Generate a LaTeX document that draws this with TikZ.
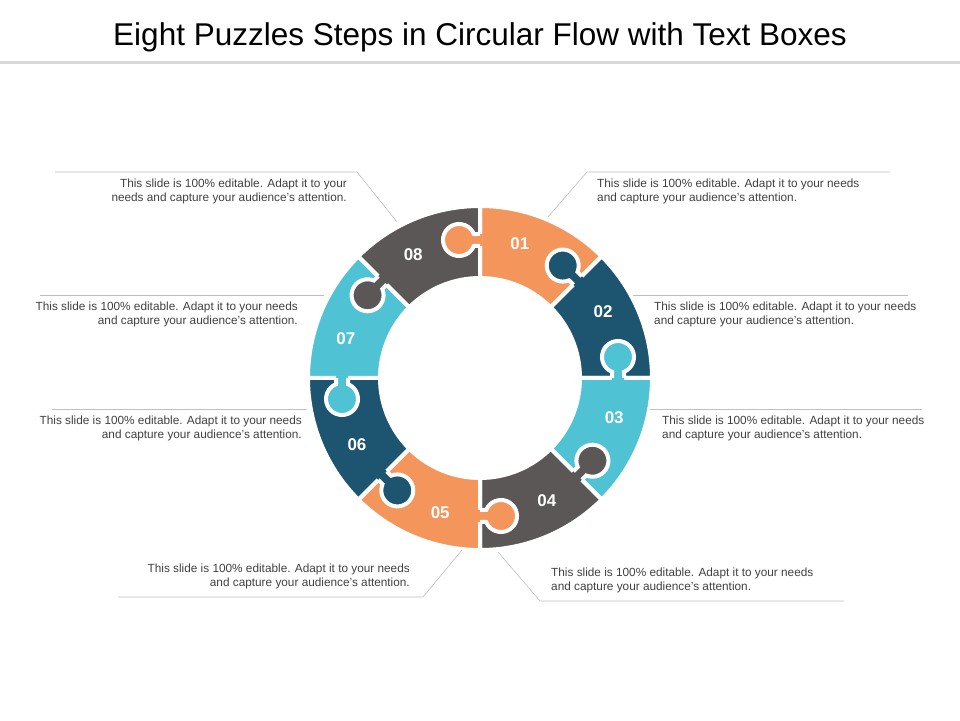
\documentclass[tikz,border=0pt]{standalone}
\usepackage{fontspec}
\setmainfont{Liberation Sans}
\usetikzlibrary{positioning}
\definecolor{puzorange}{HTML}{F4955C}
\definecolor{puzblue}{HTML}{1D5470}
\definecolor{puzcyan}{HTML}{4FC3D4}
\definecolor{puzgray}{HTML}{5B5757}
\definecolor{txtgray}{HTML}{404040}
\definecolor{rulegray}{HTML}{BFBFBF}
\begin{document}
\begin{tikzpicture}[x=1pt,y=1pt,
	  num/.style={text=white,font=\fontsize{17}{17}\selectfont\bfseries},
	  desc/.style={text=txtgray,font=\fontsize{11.8}{14}\selectfont,inner sep=0pt},
	  lead/.style={draw=rulegray,line width=0.6pt}]
	  \useasboundingbox (0,0) rectangle (960,720);
	  \node (title) at (480,683) {\fontsize{31.5}{32}\selectfont Eight Puzzles Steps in Circular Flow with Text Boxes};
	  \draw[draw=black!15,line width=3] (0,657) -- (960,657);
%
	  \begin{scope}[shift={(480,342)}]
	    \foreach \a/\c in {90/puzorange,45/puzblue,0/puzcyan,-45/puzgray,-90/puzorange,-135/puzblue,180/puzcyan,135/puzgray}
	      \filldraw[fill=\c,draw=white,line width=4] (\a:172) arc[start angle=\a,end angle=\a-45,radius=172]
	        -- (\a-45:100) arc[start angle=\a-45,end angle=\a,radius=100] -- cycle;
	    \foreach \a/\c in {90/puzorange,45/puzblue,0/puzcyan,-45/puzgray,-90/puzorange,-135/puzblue,180/puzcyan,135/puzgray}{
	      \fill[\c,rotate=\a] (132,-2.5) -- (132,6.17) arc[start angle=248,end angle=-68,radius=16] -- (144,-2.5) -- cycle;
	      \draw[white,line width=4,rotate=\a] (132,0) -- (132,6.17) arc[start angle=248,end angle=-68,radius=16] -- (144,0);
	    }
	    \foreach \a/\n in {90/01,45/02,0/03,-45/04,-90/05,-135/06,180/07,135/08}
	      \node[num] (n\n) at (\a-16.5:140) {\n};
	  \end{scope}
%
	  \coordinate (p1) at (548,503); \coordinate (q1) at (587,548);
	  \draw[lead] (p1) -- (q1) -- (890,548);
	  \node[desc,anchor=north west,align=left] (t1) at (597,541) {This slide is 100\% editable. Adapt it to your needs\\and capture your audience's attention.};
	  \draw[lead] (633,425) -- (908,425);
	  \node[desc,anchor=north west,align=left] (t2) at (654,418) {This slide is 100\% editable. Adapt it to your needs\\and capture your audience's attention.};
	  \draw[lead] (650,311) -- (922,311);
	  \node[desc,anchor=north west,align=left] (t3) at (662,304) {This slide is 100\% editable. Adapt it to your needs\\and capture your audience's attention.};
	  \coordinate (p4) at (498,168); \coordinate (q4) at (540,119);
	  \draw[lead] (p4) -- (q4) -- (844,119);
	  \node[desc,anchor=north west,align=left] (t4) at (551,152) {This slide is 100\% editable. Adapt it to your needs\\and capture your audience's attention.};
	  \coordinate (p5) at (462,170); \coordinate (q5) at (423,123);
	  \draw[lead] (p5) -- (q5) -- (118,123);
	  \node[desc,anchor=north east,align=right] (t5) at (410,156) {This slide is 100\% editable. Adapt it to your needs\\and capture your audience's attention.};
	  \draw[lead] (52,311) -- (307,311);
	  \node[desc,anchor=north east,align=right] (t6) at (302,304) {This slide is 100\% editable. Adapt it to your needs\\and capture your audience's attention.};
	  \draw[lead] (40,425) -- (324,425);
	  \node[desc,anchor=north east,align=right] (t7) at (298,418) {This slide is 100\% editable. Adapt it to your needs\\and capture your audience's attention.};
	  \coordinate (p8) at (397,498); \coordinate (q8) at (357,548);
	  \draw[lead] (p8) -- (q8) -- (55,548);
	  \node[desc,anchor=north east,align=right] (t8) at (347,541) {This slide is 100\% editable. Adapt it to your\\needs and capture your audience's attention.};
\end{tikzpicture}
\end{document}
